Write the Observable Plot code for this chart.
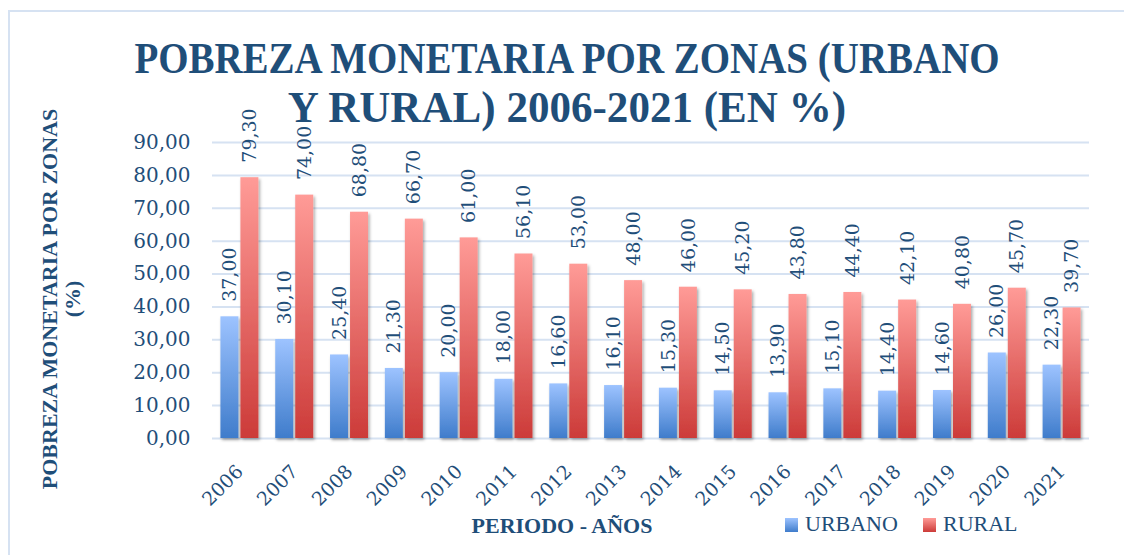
<!DOCTYPE html>
<html>
<head>
<meta charset="utf-8">
<script src="https://cdn.jsdelivr.net/npm/d3@7"></script>
<script src="https://cdn.jsdelivr.net/npm/@observablehq/plot@0.6"></script>
<style>
  html, body { margin: 0; padding: 0; background: #fff; }
  #wrap { position: relative; width: 1124px; height: 555px; overflow: hidden; font-family: "Liberation Serif", "DejaVu Serif", serif; color: #1F4E79; }
  #frame { position: absolute; left: 8px; top: 10px; width: 1200px; height: 600px; border: 2px solid #D6E2F2; box-sizing: border-box; }
  .tl { position: absolute; left: 567px; white-space: nowrap; font-weight: bold; font-size: 45px; line-height: 49px; transform-origin: center; }
  #ytitle { position: absolute; left: 61px; top: 299px; transform: translate(-50%, -50%) rotate(-90deg); white-space: nowrap; text-align: center; font-weight: bold; font-size: 22px; line-height: 23px; }
  #xtitle { position: absolute; left: 562px; top: 513px; transform: translateX(-50%); font-weight: bold; font-size: 22px; white-space: nowrap; }
  .leg { position: absolute; top: 511px; font-size: 22px; white-space: nowrap; }
  .sw { display: inline-block; width: 13px; height: 14px; margin-right: 7px; vertical-align: -1px; }
  #chart { position: absolute; left: 0; top: 0; }
</style>
</head>
<body>
<div id="wrap">
  <div id="frame"></div>
  <div id="chart"></div>
  <div class="tl" id="t1" style="top:34px">POBREZA MONETARIA POR ZONAS (URBANO</div>
  <div class="tl" id="t2" style="top:83px">Y RURAL) 2006-2021 (EN %)</div>
  <div id="ytitle">POBREZA MONETARIA POR ZONAS<br>(%)</div>
  <div id="xtitle">PERIODO - AÑOS</div>
  <div class="leg" style="left:785px"><span class="sw" style="background:linear-gradient(#9DC3FF,#3F7CCB)"></span>URBANO</div>
  <div class="leg" style="left:923px"><span class="sw" style="background:linear-gradient(#FF9B97,#CC3B39)"></span>RURAL</div>
</div>
<script>
const years = ["2006","2007","2008","2009","2010","2011","2012","2013","2014","2015","2016","2017","2018","2019","2020","2021"];
const urbano = [37.0, 30.1, 25.4, 21.3, 20.0, 18.0, 16.6, 16.1, 15.3, 14.5, 13.9, 15.1, 14.4, 14.6, 26.0, 22.3];
const rural  = [79.3, 74.0, 68.8, 66.7, 61.0, 56.1, 53.0, 48.0, 46.0, 45.2, 43.8, 44.4, 42.1, 40.8, 45.7, 39.7];
const yTicks = [0, 10, 20, 30, 40, 50, 60, 70, 80, 90];

const fmt = d => d.toFixed(2).replace(".", ",");
const dataU = years.map((y, i) => ({year: y, value: urbano[i]}));
const dataR = years.map((y, i) => ({year: y, value: rural[i]}));

const textColor = "#1F4E79";
const plot = Plot.plot({
  width: 1124,
  height: 555,
  marginTop: 142,
  marginBottom: 117,
  marginLeft: 212,
  marginRight: 35,
  style: {fontFamily: "'DejaVu Serif', serif", fontSize: "20px", color: textColor, background: "transparent", overflow: "visible"},
  x: {domain: years, paddingInner: 0.307, paddingOuter: 0.1535, align: 0.5, round: false, tickRotate: -45, tickSize: 0, tickPadding: 30, label: null},
  y: {domain: [0, 90], ticks: yTicks, tickFormat: fmt, tickSize: 0, tickPadding: 22, label: null},
  marks: [
    Plot.ruleY(yTicks, {stroke: "#D6E2F2", strokeWidth: 2}),
    Plot.barY(dataU, {x: "year", y: "value", fill: "url(#gradU)", insetRight: 20}),
    Plot.barY(dataR, {x: "year", y: "value", fill: "url(#gradR)", insetLeft: 20}),
    Plot.text(dataU, {x: "year", y: "value", text: d => fmt(d.value), rotate: -90, textAnchor: "start", dx: -10, dy: -15, fontSize: 19, fill: textColor}),
    Plot.text(dataR, {x: "year", y: "value", text: d => fmt(d.value), rotate: -90, textAnchor: "start", dx: 10, dy: -15, fontSize: 19, fill: textColor})
  ]
});

const ns = "http://www.w3.org/2000/svg";
const defs = document.createElementNS(ns, "defs");
defs.innerHTML = `
  <linearGradient id="gradU" x1="0" y1="0" x2="0" y2="1">
    <stop offset="0" stop-color="#9DC3FF"/><stop offset="1" stop-color="#3F7CCB"/>
  </linearGradient>
  <linearGradient id="gradR" x1="0" y1="0" x2="0" y2="1">
    <stop offset="0" stop-color="#FF9B97"/><stop offset="1" stop-color="#CC3B39"/>
  </linearGradient>
  <filter id="shadow" x="-30%" y="-5%" width="160%" height="115%">
    <feDropShadow dx="1.5" dy="2" stdDeviation="1.8" flood-color="#000" flood-opacity="0.35"/>
  </filter>`;
plot.insertBefore(defs, plot.firstChild);
plot.querySelectorAll('g[aria-label="bar"]').forEach(g => g.setAttribute("filter", "url(#shadow)"));
plot.querySelectorAll('g[aria-label="x-axis"] text, g[aria-label="x-axis tick label"] text').forEach(t => t.style.fontSize = "19px");
document.getElementById("chart").appendChild(plot);

// fit title lines to the reference widths
const t1 = document.getElementById("t1"), t2 = document.getElementById("t2");
const s1 = 865 / t1.offsetWidth, s2 = 558 / t2.offsetWidth;
t1.style.transform = `translateX(-50%) scaleX(${s1})`;
t2.style.transform = `translateX(-50%) scaleX(${s2})`;
</script>
</body>
</html>
